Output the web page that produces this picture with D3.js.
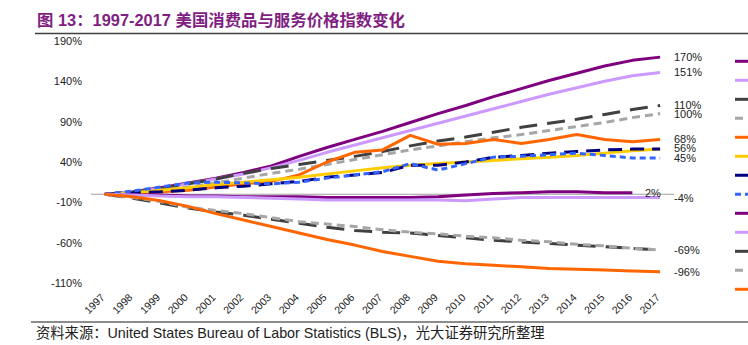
<!DOCTYPE html>
<html><head><meta charset="utf-8">
<script src="https://cdn.jsdelivr.net/npm/d3@7"></script>
<style>body{margin:0;background:#fff} svg{display:block}</style>
</head><body>
<svg id="c" width="748" height="345"></svg>
<script>
const years = ["1997","1998","1999","2000","2001","2002","2003","2004","2005","2006","2007","2008","2009","2010","2011","2012","2013","2014","2015","2016","2017"];
const yTicks = [-110,-60,-10,40,90,140,190];

const purpleUp    = [0,3,8,14,20,27,35,47,58,68,78,89,100,110,121,131,141,150,159,166,170];
const lilacUp     = [0,3,7,13,19,25,33,42,52,61,70,79,88,97,106,115,124,132,140,147,151];
const darkGrayUp  = [0,3,7,13,19,26,32,37,42,47,53,60,66,71,77,83,88,93,99,105,110];
const lightGrayUp = [0,2,5,9,14,20,26,31,37,43,49,55,60,65,70,74,79,84,89,95,100];
const orangeUp    = [0,1,3,5,9,13,16,24,40,52,55,73,62,63,68,63,68,74,68,65,68];
const yellowUp    = [0,2,5,8,12,15,18,21,25,29,33,36,38,40,42,44,46,48,51,54,56];
const navyUp      = [0,2,3,5,8,10,13,16,21,24,27,36,36,40,46,48,51,53,55,56,56];
const blueUp      = [0,4,9,14,15,14,13,15,20,24,28,38,30,38,46,47,49,51,48,45,45];
const purpleDown    = [0,-1,-1,-2,-2,-3,-3,-3,-4,-4,-4,-4,-3,-1,1,2,3,3,2,2,null];
const lilacDown     = [0,-1,-2,-3,-3,-4,-5,-6,-7,-7,-7,-7,-7,-8,-6,-4,-4,-4,-4,-4,-4];
const darkGrayDown  = [0,-5,-11,-17,-22,-26,-31,-36,-41,-45,-47,-48,-51,-54,-57,-59,-61,-63,-65,-67,-69];
const lightGrayDown = [0,-4,-9,-16,-20,-24,-29,-34,-37,-40,-44,-47,-49,-52,-54,-57,-59,-62,-64,-67,-69];
const orangeDown    = [0,-3,-8,-15,-24,-32,-40,-48,-56,-63,-71,-77,-83,-86,-88,-90,-92,-93,-94,-95,-96];

const endLabels = ["170%","151%","110%","100%","68%","56%","45%","2%","-4%","-69%","-96%"];

const series = [
  {v: purpleUp,      c:"#7f007f", d:null},
  {v: lilacUp,       c:"#cc99ff", d:null},
  {v: darkGrayUp,    c:"#404040", d:"18,10"},
  {v: lightGrayUp,   c:"#a6a6a6", d:"8,5"},
  {v: orangeUp,      c:"#ff6600", d:null},
  {v: yellowUp,      c:"#ffcc00", d:null},
  {v: navyUp,        c:"#000080", d:"14,8"},
  {v: blueUp,        c:"#3366ff", d:"6,4"},
  {v: purpleDown,    c:"#7f007f", d:null},
  {v: lilacDown,     c:"#cc99ff", d:null},
  {v: darkGrayDown,  c:"#404040", d:"18,10"},
  {v: lightGrayDown, c:"#a6a6a6", d:"8,5"},
  {v: orangeDown,    c:"#ff6600", d:null}
];

const svg = d3.select("#c");
const x = d3.scalePoint().domain(years).range([91,674]).padding(0.5);
const y = d3.scaleLinear().domain([-110,190]).range([283,41]);

// title
svg.append("text").attr("x",37).attr("y",26)
  .attr("font-family","'Liberation Sans', 'Noto Sans CJK SC', sans-serif")
  .attr("font-weight","bold").attr("font-size",16.4).attr("fill","#7f1f82")
  .text("图 13：1997-2017 美国消费品与服务价格指数变化");
svg.append("line").attr("x1",35).attr("x2",748).attr("y1",33.5).attr("y2",33.5)
  .attr("stroke","#404040").attr("stroke-width",1.5);

// y axis
const yAxis = svg.append("g").attr("transform","translate(86,0)")
  .call(d3.axisLeft(y).tickValues(yTicks).tickSize(0).tickPadding(4).tickFormat(d=>d+"%"));
yAxis.select(".domain").remove();
yAxis.selectAll("text").attr("font-family","'Liberation Sans', Arial, sans-serif").attr("font-size",11).attr("fill","#222");

// x axis
const xAxis = svg.append("g").attr("transform","translate(0,290)")
  .call(d3.axisBottom(x).tickSize(0).tickPadding(0));
xAxis.select(".domain").remove();
xAxis.selectAll("text").attr("font-family","'Liberation Sans', Arial, sans-serif").attr("font-size",10.5).attr("fill","#222")
  .attr("y",0).attr("dy",0).attr("text-anchor","end").attr("transform","translate(0,8) rotate(-45)");

// zero line
svg.append("line").attr("x1",91).attr("x2",674).attr("y1",y(0)).attr("y2",y(0))
  .attr("stroke","#a0a0a0").attr("stroke-width",1.2);

const line = d3.line().defined(d=>d.v!=null).x(d=>x(d.yr)).y(d=>y(d.v));
series.forEach(s=>{
  const pts = years.map((yr,i)=>({yr, v:s.v[i]}));
  svg.append("path").attr("d",line(pts)).attr("fill","none")
    .attr("stroke",s.c).attr("stroke-width",3)
    .attr("stroke-dasharray",s.d).attr("stroke-linejoin","round");
});

// end labels
const labelPos = [
  [674,170],[674,151],[674,110],[674,99],[674,68],[674,57],[674,45],[645,1],[674,-5],[674,-69],[674,-96]
];
labelPos.forEach((p,i)=>{
  svg.append("text").attr("x",p[0]).attr("y",y(p[1])).attr("dy","0.35em")
    .attr("font-family","'Liberation Sans', Arial, sans-serif").attr("font-size",11).attr("fill","#222")
    .text(endLabels[i]);
});

// legend swatches (labels fall outside the picture)
series.forEach((s,i)=>{
  svg.append("line").attr("x1",735).attr("x2",762).attr("y1",61.3+19*i).attr("y2",61.3+19*i)
    .attr("stroke",s.c).attr("stroke-width",3).attr("stroke-dasharray",s.d);
});

// source
svg.append("line").attr("x1",31).attr("x2",748).attr("y1",322).attr("y2",322)
  .attr("stroke","#8c8c8c").attr("stroke-width",2);
svg.append("text").attr("x",36).attr("y",338)
  .attr("font-family","'Liberation Sans', 'Noto Sans CJK SC', sans-serif").attr("font-size",14.3).attr("fill","#222")
  .text("资料来源：United States Bureau of Labor Statistics (BLS)，光大证券研究所整理");
</script>
</body></html>
